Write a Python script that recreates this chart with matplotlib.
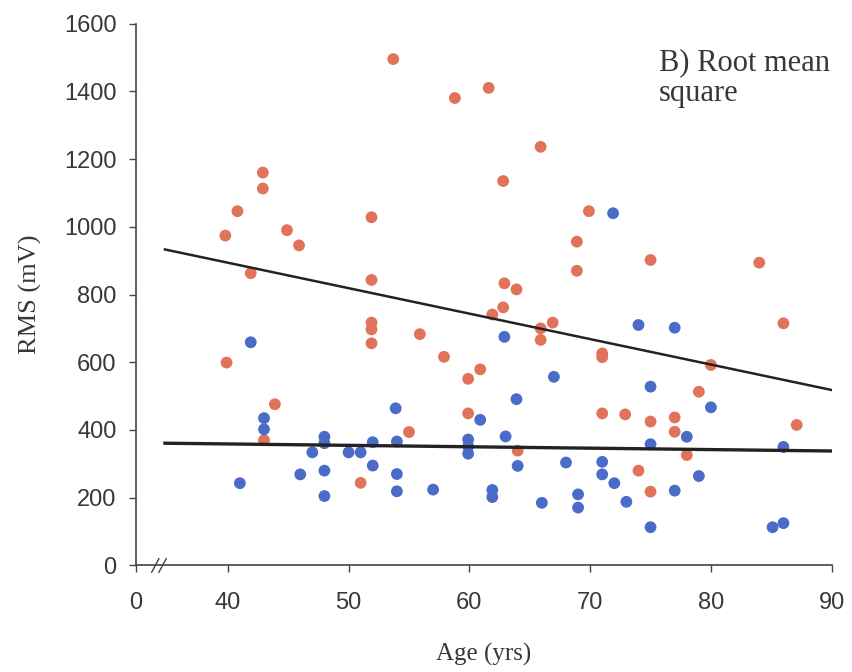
import matplotlib
matplotlib.use("Agg")
import matplotlib.pyplot as plt

# Root mean square amplitude versus age, two groups
red_age = [53.7, 58.8, 61.6, 42.9, 42.9, 40.8, 39.8, 44.9, 45.9, 51.9, 41.9, 51.9,
           65.9, 62.8, 69.9, 68.9, 68.9, 75.0, 84.0, 62.9, 63.9,
           51.9, 51.9, 51.9, 55.9, 57.9, 39.9, 60.9, 59.9, 43.9, 59.9, 55.0, 43.0,
           51.0, 61.9, 62.8, 66.9, 65.9, 65.9, 71.0, 71.0, 80.0, 79.0, 71.0, 72.9,
           75.0, 77.0, 77.0, 87.1, 64.0, 78.0, 74.0, 75.0, 86.0]
red_rms = [1495, 1380, 1410, 1160, 1113, 1046, 974, 990, 945, 1028, 863, 843,
           1236, 1135, 1046, 956, 870, 902, 894, 833, 815,
           717, 697, 656, 683, 616, 599, 579, 551, 476, 449, 394, 370,
           244, 741, 762, 717, 700, 666, 626, 615, 592, 513, 449, 446,
           425, 437, 395, 415, 339, 326, 280, 218, 715]

blue_age = [71.9, 41.9, 53.9, 43.0, 43.0, 60.9, 48.0, 48.0, 52.0, 54.0, 59.9, 59.9,
            59.9, 47.0, 50.0, 51.0, 52.0, 48.0, 46.0, 54.0, 41.0, 48.0, 54.0, 57.0,
            61.9, 61.9, 74.0, 77.0, 62.9, 67.0, 75.0, 63.9, 80.0, 63.0, 78.0, 75.0,
            86.0, 64.0, 68.0, 71.0, 71.0, 72.0, 79.0, 66.0, 69.0, 69.0, 73.0, 77.0,
            75.0, 85.1, 86.0]
blue_rms = [1040, 659, 464, 435, 402, 430, 380, 361, 364, 366, 372, 352,
            330, 334, 334, 334, 295, 280, 269, 270, 243, 205, 219, 224,
            223, 202, 710, 702, 675, 557, 528, 491, 467, 381, 380, 358,
            350, 294, 304, 306, 269, 243, 264, 185, 210, 171, 188, 221,
            113, 113, 125]

# Linear trend lines (end points)
trend_age = [34.8, 90.0]
red_trend = [933, 518]
blue_trend = [361, 338]

x_ticks = [40, 50, 60, 70, 80, 90]
y_ticks = [0, 200, 400, 600, 800, 1000, 1200, 1400, 1600]

RED = "#E0735A"
BLUE = "#4A6CC8"
TEXT = "#383838"
X_START = 32.4  # left end of the broken axis, labelled 0

fig = plt.figure(figsize=(8.52, 6.72), dpi=100)
ax = fig.add_axes([0.1596, 0.1585, 0.8166, 0.8065])

ax.scatter(red_age, red_rms, s=72, color=RED, edgecolors="none", zorder=3)
ax.scatter(blue_age, blue_rms, s=72, color=BLUE, edgecolors="none", zorder=4)
ax.plot(trend_age, red_trend, color="#222222", lw=1.8, zorder=5)
ax.plot(trend_age, blue_trend, color="#222222", lw=2.4, zorder=5)

ax.set_xlim(X_START, 90)
ax.set_ylim(0, 1600)
ax.set_xticks([X_START] + x_ticks)
ax.set_xticklabels(["0"] + [str(t) for t in x_ticks])
ax.set_yticks(y_ticks)
ax.set_yticklabels([str(t) for t in y_ticks])

for side in ("top", "right"):
    ax.spines[side].set_visible(False)
for side in ("left", "bottom"):
    ax.spines[side].set_color("#444444")
    ax.spines[side].set_linewidth(1.2)

ax.tick_params(axis="y", direction="out", length=5, width=1.0, color="#444444",
               pad=9, labelsize=17, labelcolor=TEXT)
ax.tick_params(axis="x", direction="out", length=5, width=1.0, color="#444444",
               pad=14, labelsize=17, labelcolor=TEXT)
for lbl in ax.get_xticklabels() + ax.get_yticklabels():
    lbl.set_fontfamily("Liberation Sans")

# axis break marks
for dx in (34.0, 34.6):
    ax.plot([dx - 0.3, dx + 0.3], [-20, 20], color="#444444", lw=1.0,
            clip_on=False, zorder=6)

ax.set_xlabel("Age (yrs)", fontfamily="Liberation Serif", fontsize=18,
              color=TEXT, labelpad=21)
ax.set_ylabel("RMS (mV)", fontfamily="Liberation Serif", fontsize=19,
              color=TEXT, labelpad=16)

ax.text(0.752, 0.955, "B) Root mean\nsquare", transform=ax.transAxes,
        fontfamily="Liberation Serif", fontsize=22, color=TEXT,
        ha="left", va="top", linespacing=1.1)

fig.savefig("out.png", dpi=100)
